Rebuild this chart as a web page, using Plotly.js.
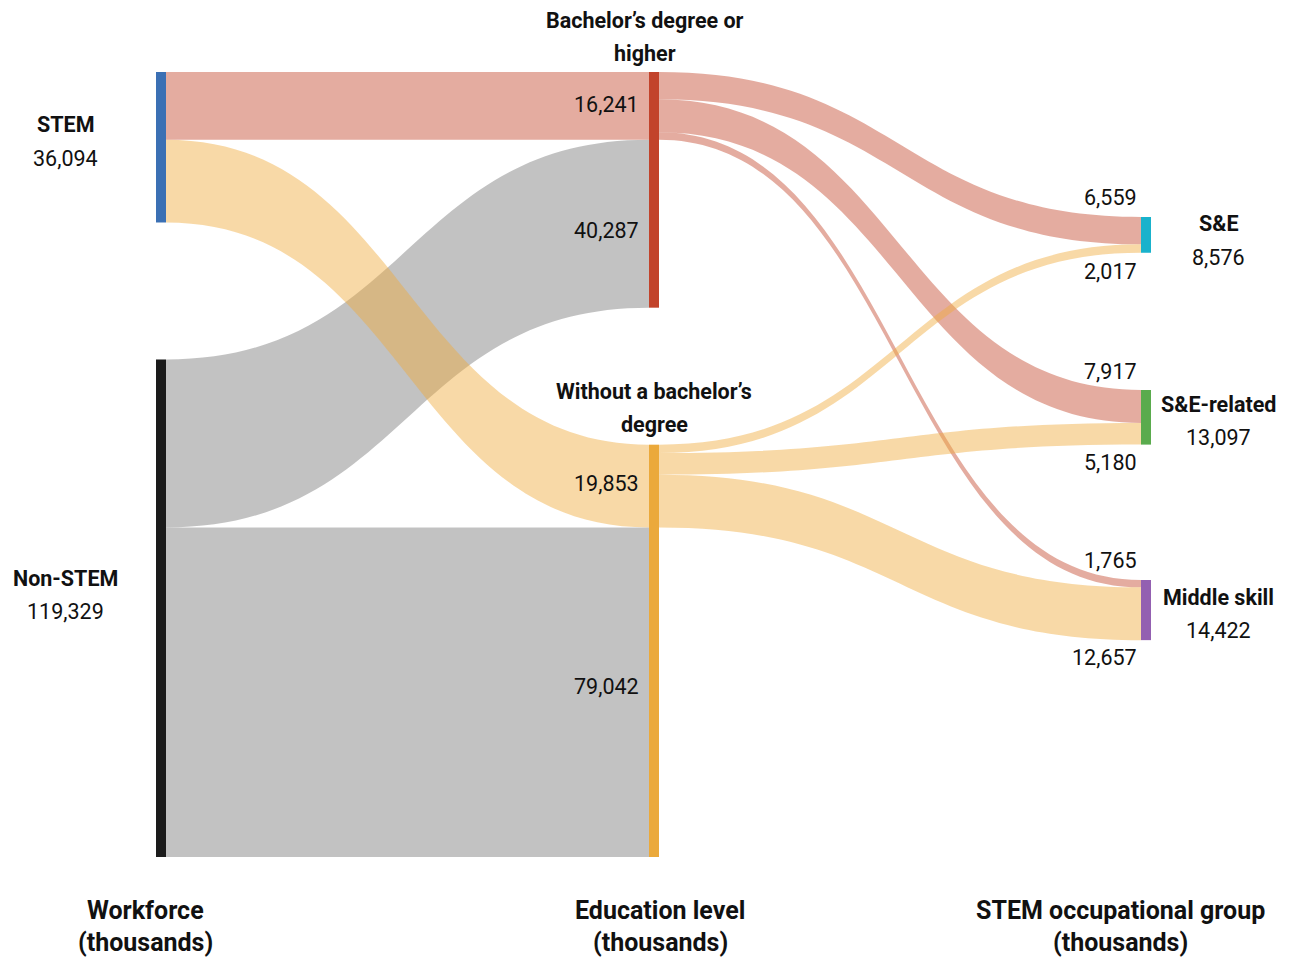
<!DOCTYPE html>
<html><head><meta charset="utf-8">
<script src="https://cdn.plot.ly/plotly-3.0.1.min.js"></script>
<style>html,body{margin:0;padding:0;background:#fff}</style>
</head><body><div id="chart" style="width:1289px;height:958px"></div>
<script>
// ---------- DATA ----------
const nodeNames = ['STEM', 'Non-STEM', 'Bachelor’s degree or higher', 'Without a bachelor’s degree', 'S&E', 'S&E-related', 'Middle skill'];
const nodeNameLines = [['STEM'], ['Non-STEM'], ['Bachelor’s degree or', 'higher'], ['Without a bachelor’s', 'degree'], ['S&E'], ['S&E-related'], ['Middle skill']];
const nodeTotals = [36094, 119329, null, null, 8576, 13097, 14422];
const linkSources = [1, 1, 0, 2, 2, 2, 0, 3, 3, 3];
const linkTargets = [2, 3, 2, 4, 5, 6, 3, 4, 5, 6];
const linkValues = [40287, 79042, 16241, 6559, 7917, 1765, 19853, 2017, 5180, 12657];
const columnTitles = [['Workforce', '(thousands)'], ['Education level', '(thousands)'], ['STEM occupational group', '(thousands)']];

// ---------- STYLE / LAYOUT ----------
const W = 1289, H = 958;
const plotL = 156, plotR = 1151, plotT = 72, plotB = 857;
const pw = plotR - plotL, ph = plotB - plotT;
const pad = 137;
const nodeColors = ['#3b70b4', '#1b1b1b', '#c2432b', '#eba93b', '#19b2cc', '#5aab4d', '#9360b1'];
const salmon = 'rgba(201,89,65,0.5)', orange = 'rgba(240,170,60,0.45)', grey = 'rgba(130,130,130,0.49)';
const linkColors = linkSources.map((s, i) => {
  const t = linkTargets[i];
  if (s === 1) return grey;
  if (s === 0) return t === 2 ? salmon : orange;
  return s === 2 ? salmon : orange;
});
const nodeXpx = [161, 161, 654, 654, 1146, 1146, 1146];
const colTotal = nodeTotals[0] + nodeTotals[1];
const ky = (ph - pad) / colTotal;
const nodeVal = nodeNames.map((_, i) => {
  let inn = 0, out = 0;
  linkValues.forEach((v, j) => { if (linkTargets[j] === i) inn += v; if (linkSources[j] === i) out += v; });
  return Math.max(inn, out);
});
const nodeAnchor = [['top', 72], ['bottom', 857], ['top', 72], ['bottom', 857], ['top', 217], ['top', 390], ['top', 580]];
const nodeYc = nodeAnchor.map((a, i) => {
  const h = nodeVal[i] * ky;
  return a[0] === 'top' ? a[1] + h / 2 : a[1] - h / 2;
});
const nodeX = nodeXpx.map(p => (p - plotL) / pw);
const nodeY = nodeYc.map(p => (p - plotT) / ph);

const px2x = p => (p - plotL) / pw;
const px2y = p => 1 - (p - plotT) / ph;
const fmt = v => v.toLocaleString('en-US');

const FONT = 'Roboto, "Noto Sans", sans-serif';
const annotations = [];
function ann(text, x, y, opts) {
  annotations.push(Object.assign({
    text: text, x: px2x(x), y: px2y(y), xref: 'paper', yref: 'paper',
    showarrow: false, xanchor: 'center', yanchor: 'middle',
    font: {family: FONT, size: 21.5, color: '#111'}
  }, opts || {}));
}
const nodeLabelPos = [[65, 125], [65, 578], [645, 20], [654, 391], [1218, 224], [1218, 404], [1218, 597]];
const lineGap = 33;
nodeNameLines.forEach((lines, i) => {
  const [x, y] = nodeLabelPos[i];
  lines.forEach((ln, k) => ann(ln, x, y + k * lineGap, {font: {family: FONT, size: 21.5, color: '#111', weight: 700}}));
  if (nodeTotals[i] !== null) ann(fmt(nodeTotals[i]), x, y + lines.length * lineGap);
});
// link value labels: [source, target, right edge x, centre y]
const linkLabelPos = [[0, 2, 641, 104], [1, 2, 641, 231], [0, 3, 641, 483], [1, 3, 641, 686],
  [2, 4, 1139, 198], [3, 4, 1139, 272], [2, 5, 1139, 371], [3, 5, 1139, 462], [2, 6, 1139, 560], [3, 6, 1139, 657]];
linkLabelPos.forEach(([s, t, x, y]) => {
  const li = linkSources.findIndex((ss, j) => ss === s && linkTargets[j] === t);
  ann(fmt(linkValues[li]), x, y, {xanchor: 'right'});
});
const colTitleX = [145, 660, 1120];
columnTitles.forEach((lines, c) => lines.forEach((ln, k) =>
  ann(ln, colTitleX[c], 910 + k * 32, {font: {family: FONT, size: 25, color: '#111', weight: 700}})));

const trace = {
  type: 'sankey',
  arrangement: 'fixed',
  domain: {x: [0, 1], y: [0, 1]},
  node: {
    label: nodeNames.map(() => ''),
    customdata: nodeNames,
    hovertemplate: '%{customdata}: %{value}<extra></extra>',
    x: nodeX, y: nodeY,
    pad: pad, thickness: 10,
    color: nodeColors,
    line: {width: 0}
  },
  link: {source: linkSources, target: linkTargets, value: linkValues, color: linkColors, line: {width: 0}}
};

Plotly.newPlot('chart', [trace], {
  width: W, height: H,
  margin: {l: plotL, r: W - plotR, t: plotT, b: H - plotB, pad: 0},
  paper_bgcolor: '#fff', plot_bgcolor: '#fff',
  font: {family: FONT},
  annotations: annotations,
  showlegend: false
}, {displayModeBar: false, staticPlot: true});
</script>
</body></html>
